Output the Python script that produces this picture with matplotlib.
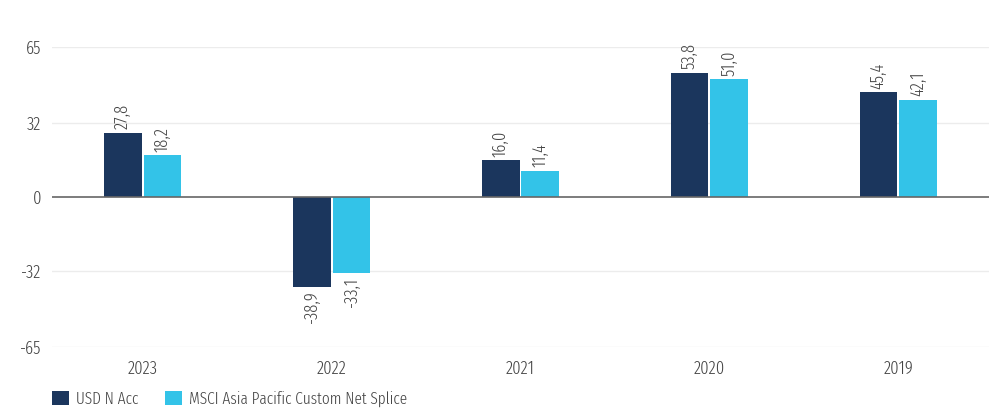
import numpy as np
import matplotlib.pyplot as plt

plt.rcParams['font.family'] = ['Fira Sans Extra Condensed', 'DejaVu Sans']
plt.rcParams['font.weight'] = 300

years = ["2023", "2022", "2021", "2020", "2019"]
fund = [27.8, -38.9, 16.0, 53.8, 45.4]
index = [18.2, -33.1, 11.4, 51.0, 42.1]
series_names = ["USD N Acc", "MSCI Asia Pacific Custom Net Splice"]
yticks = [65, 32, 0, -32, -65]

dark = "#1b365d"
light = "#33c3e8"
txt = "#444444"

fig = plt.figure(figsize=(9.89, 4.17), dpi=100)
ax = fig.add_axes([52 / 989, 1 - 347 / 417, 937 / 989, 300 / 417])

x = np.arange(len(years))
w = 0.2
off = 0.105
b1 = ax.bar(x - off, fund, w, color=dark, zorder=3, label=series_names[0])
b2 = ax.bar(x + off, index, w, color=light, zorder=3, label=series_names[1])

for bars, vals in ((b1, fund), (b2, index)):
    for rect, v in zip(bars, vals):
        cx = rect.get_x() + rect.get_width() / 2
        lab = f"{v:.1f}".replace(".", ",")
        ax.annotate(lab, (cx, v), xytext=(0, 2.5 if v >= 0 else -2.5),
                    textcoords="offset points", rotation=90, ha="center",
                    va="bottom" if v >= 0 else "top", fontsize=13, color=txt)

ax.set_ylim(-65, 65)
ax.set_xlim(-0.48, 4.48)
ax.set_yticks(yticks)
ax.set_yticklabels([str(t) for t in yticks])
ax.set_xticks(x)
ax.set_xticklabels(years)
ax.tick_params(axis="both", length=0, labelsize=13, colors=txt)
ax.tick_params(axis="y", pad=8)
ax.tick_params(axis="x", pad=9)
for t in yticks:
    if t != 0:
        ax.axhline(t, color="#ececec", lw=1, zorder=1)
ax.axhline(0, color="#666666", lw=1.2, zorder=4)
for s in ax.spines.values():
    s.set_visible(False)

leg = fig.legend(loc="lower left", bbox_to_anchor=(37 / 989, -0.012), ncol=2,
                 frameon=False, fontsize=12, handlelength=1.0, handleheight=1.0,
                 columnspacing=1.6, handletextpad=0.45, labelcolor=txt)

fig.savefig("out.png", dpi=100)
